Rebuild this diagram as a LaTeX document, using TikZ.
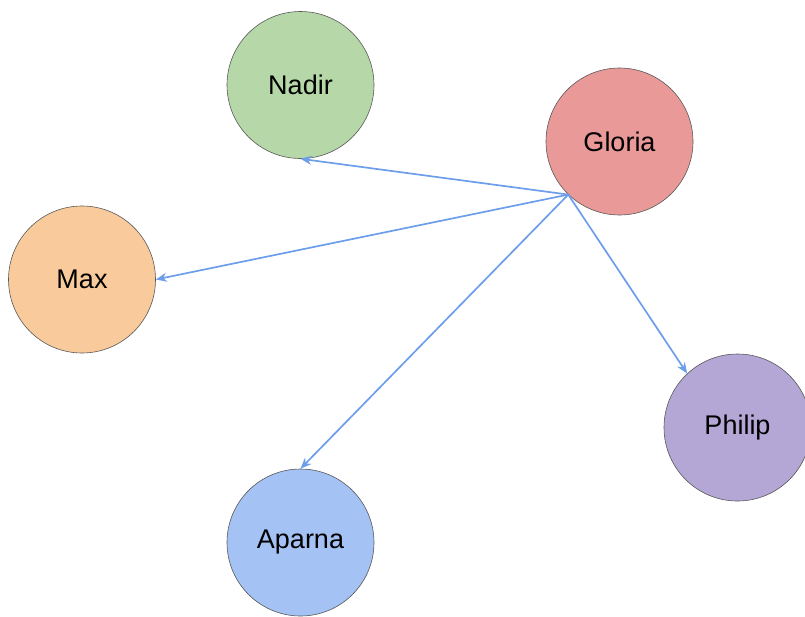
\documentclass[tikz,border=0pt]{standalone}
\usepackage{fontspec}
\setmainfont{Liberation Sans}
\usetikzlibrary{arrows.meta}
\definecolor{nadirc}{HTML}{B6D7A8}
\definecolor{gloriac}{HTML}{EA9999}
\definecolor{maxc}{HTML}{F9CB9C}
\definecolor{philipc}{HTML}{B4A7D6}
\definecolor{aparnac}{HTML}{A4C2F4}
\definecolor{edgec}{HTML}{6D9EEB}
\definecolor{rimc}{HTML}{595959}
\tikzset{
  person/.style={circle, draw=rimc, line width=0.6pt, minimum size=147pt, inner sep=0pt,
    font=\fontsize{27}{32}\selectfont},
  link/.style={draw=edgec, line width=1.7pt, -{Stealth[length=11pt,width=9pt]}}
}
\begin{document}
\begin{tikzpicture}[x=1pt,y=-1pt]
\useasboundingbox (0,0) rectangle (805,616);
\node[person, fill=nadirc]  (N) at (300.5,85)    {Nadir};
\node[person, fill=gloriac] (G) at (619.5,141.5) {Gloria};
\node[person, fill=maxc]    (M) at (82,279.5)    {Max};
\node[person, fill=philipc] (P) at (737.5,427.5) {Philip};
\node[person, fill=aparnac] (A) at (300.5,542.5) {Aparna};
\draw[link] (G.226) -- (N.south);
\draw[link] (G.226) -- (M.east);
\draw[link] (G.226) -- (A.north);
\draw[link] (G.226) -- (P.133);
\end{tikzpicture}
\end{document}
